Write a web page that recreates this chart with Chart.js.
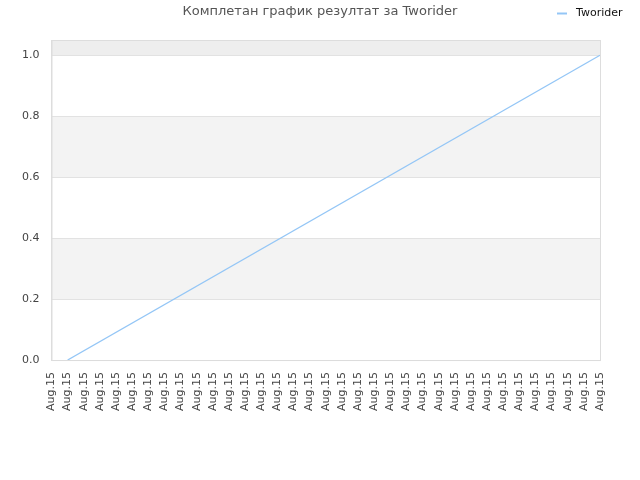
<!DOCTYPE html>
<html>
<head>
<meta charset="utf-8">
<script src="https://cdn.jsdelivr.net/npm/chart.js@4"></script>
<style>
  html, body { margin: 0; padding: 0; background: #fff; }
  #wrap { width: 640px; height: 480px; position: relative; }
</style>
</head>
<body>
<div id="wrap"><canvas id="chart"></canvas></div>
<script>
// ── Data ──────────────────────────────────────────────────────────────────────
const TITLE  = 'Комплетан график резултат за Tworider'
const SERIES = 'Tworider'
const LABELS = Array(35).fill('Aug.15')
// start at the 2nd label with 0, end at the last label with 1 (straight line between)
const VALUES = [
  null, 0, null, null, null, null, null, null, null, null,
  null, null, null, null, null, null, null, null, null, null,
  null, null, null, null, null, null, null, null, null, null,
  null, null, null, null, 1,
]
const Y_TICKS = [0, 0.2, 0.4, 0.6, 0.8, 1.0]

// ── Style ─────────────────────────────────────────────────────────────────────
const FONT      = 'DejaVu Sans, sans-serif'
const LINE_CLR  = '#94c6f6'
const GRID_CLR  = '#e2e2e2'
const BAND_CLR  = '#f3f3f3'
const TOP_BAND  = '#eeeeee'

// ── Plugins ───────────────────────────────────────────────────────────────────
const bands = {
  id: 'bands',
  beforeDraw(chart) {
    const { ctx, chartArea: a, scales: { y } } = chart
    ctx.save()
    // top strip above last tick
    ctx.fillStyle = TOP_BAND
    ctx.fillRect(a.left, a.top, a.right - a.left, y.getPixelForValue(1.0) - a.top)
    ctx.fillStyle = BAND_CLR
    for (const [lo, hi] of [[0.2, 0.4], [0.6, 0.8]]) {
      const t = y.getPixelForValue(hi), b = y.getPixelForValue(lo)
      ctx.fillRect(a.left, t, a.right - a.left, b - t)
    }
    ctx.restore()
  },
  afterDraw(chart) {
    const { ctx, chartArea: a } = chart
    ctx.save()
    ctx.strokeStyle = '#dddddd'
    ctx.lineWidth = 1
    ctx.strokeRect(a.left + 0.5, a.top + 0.5, a.right - a.left, a.bottom - a.top)
    // title
    ctx.fillStyle = '#555'
    ctx.font = `13px ${FONT}`
    ctx.textAlign = 'center'
    ctx.textBaseline = 'middle'
    ctx.fillText(TITLE, 320, 12)
    // legend
    ctx.strokeStyle = LINE_CLR
    ctx.lineWidth = 2
    ctx.beginPath()
    ctx.moveTo(557, 13.5)
    ctx.lineTo(567, 13.5)
    ctx.stroke()
    ctx.fillStyle = '#111'
    ctx.font = `11px ${FONT}`
    ctx.textAlign = 'left'
    ctx.fillText(SERIES, 576, 13)
    ctx.restore()
  },
}

// ── Chart ─────────────────────────────────────────────────────────────────────
new Chart(document.getElementById('chart'), {
  type: 'line',
  data: {
    labels: LABELS,
    datasets: [{
      label: SERIES,
      data: VALUES,
      borderColor: LINE_CLR,
      backgroundColor: LINE_CLR,
      borderWidth: 1.3,
      pointRadius: 0,
      spanGaps: true,
      tension: 0,
    }],
  },
  options: {
    responsive: true,
    maintainAspectRatio: false,
    animation: false,
    layout: { padding: { top: 40, right: 40, bottom: 65, left: 10 } },
    plugins: {
      title: { display: false },
      tooltip: { enabled: false },
      legend: { display: false },
    },
    scales: {
      x: {
        offset: false,
        grid: { display: false },
        border: { color: '#dddddd' },
        ticks: {
          color: '#444',
          font: { family: FONT, size: 11 },
          minRotation: 90,
          maxRotation: 90,
          autoSkip: false,
          padding: 4,
        },
      },
      y: {
        min: 0,
        max: 1.05,
        afterBuildTicks(scale) { scale.ticks = Y_TICKS.map(v => ({ value: v })) },
        grid: { color: GRID_CLR, drawTicks: false },
        border: { color: '#dddddd' },
        ticks: {
          color: '#444',
          font: { family: FONT, size: 11 },
          padding: 12,
          callback: v => v.toFixed(1),
        },
      },
    },
  },
  plugins: [bands],
})
</script>
</body>
</html>
